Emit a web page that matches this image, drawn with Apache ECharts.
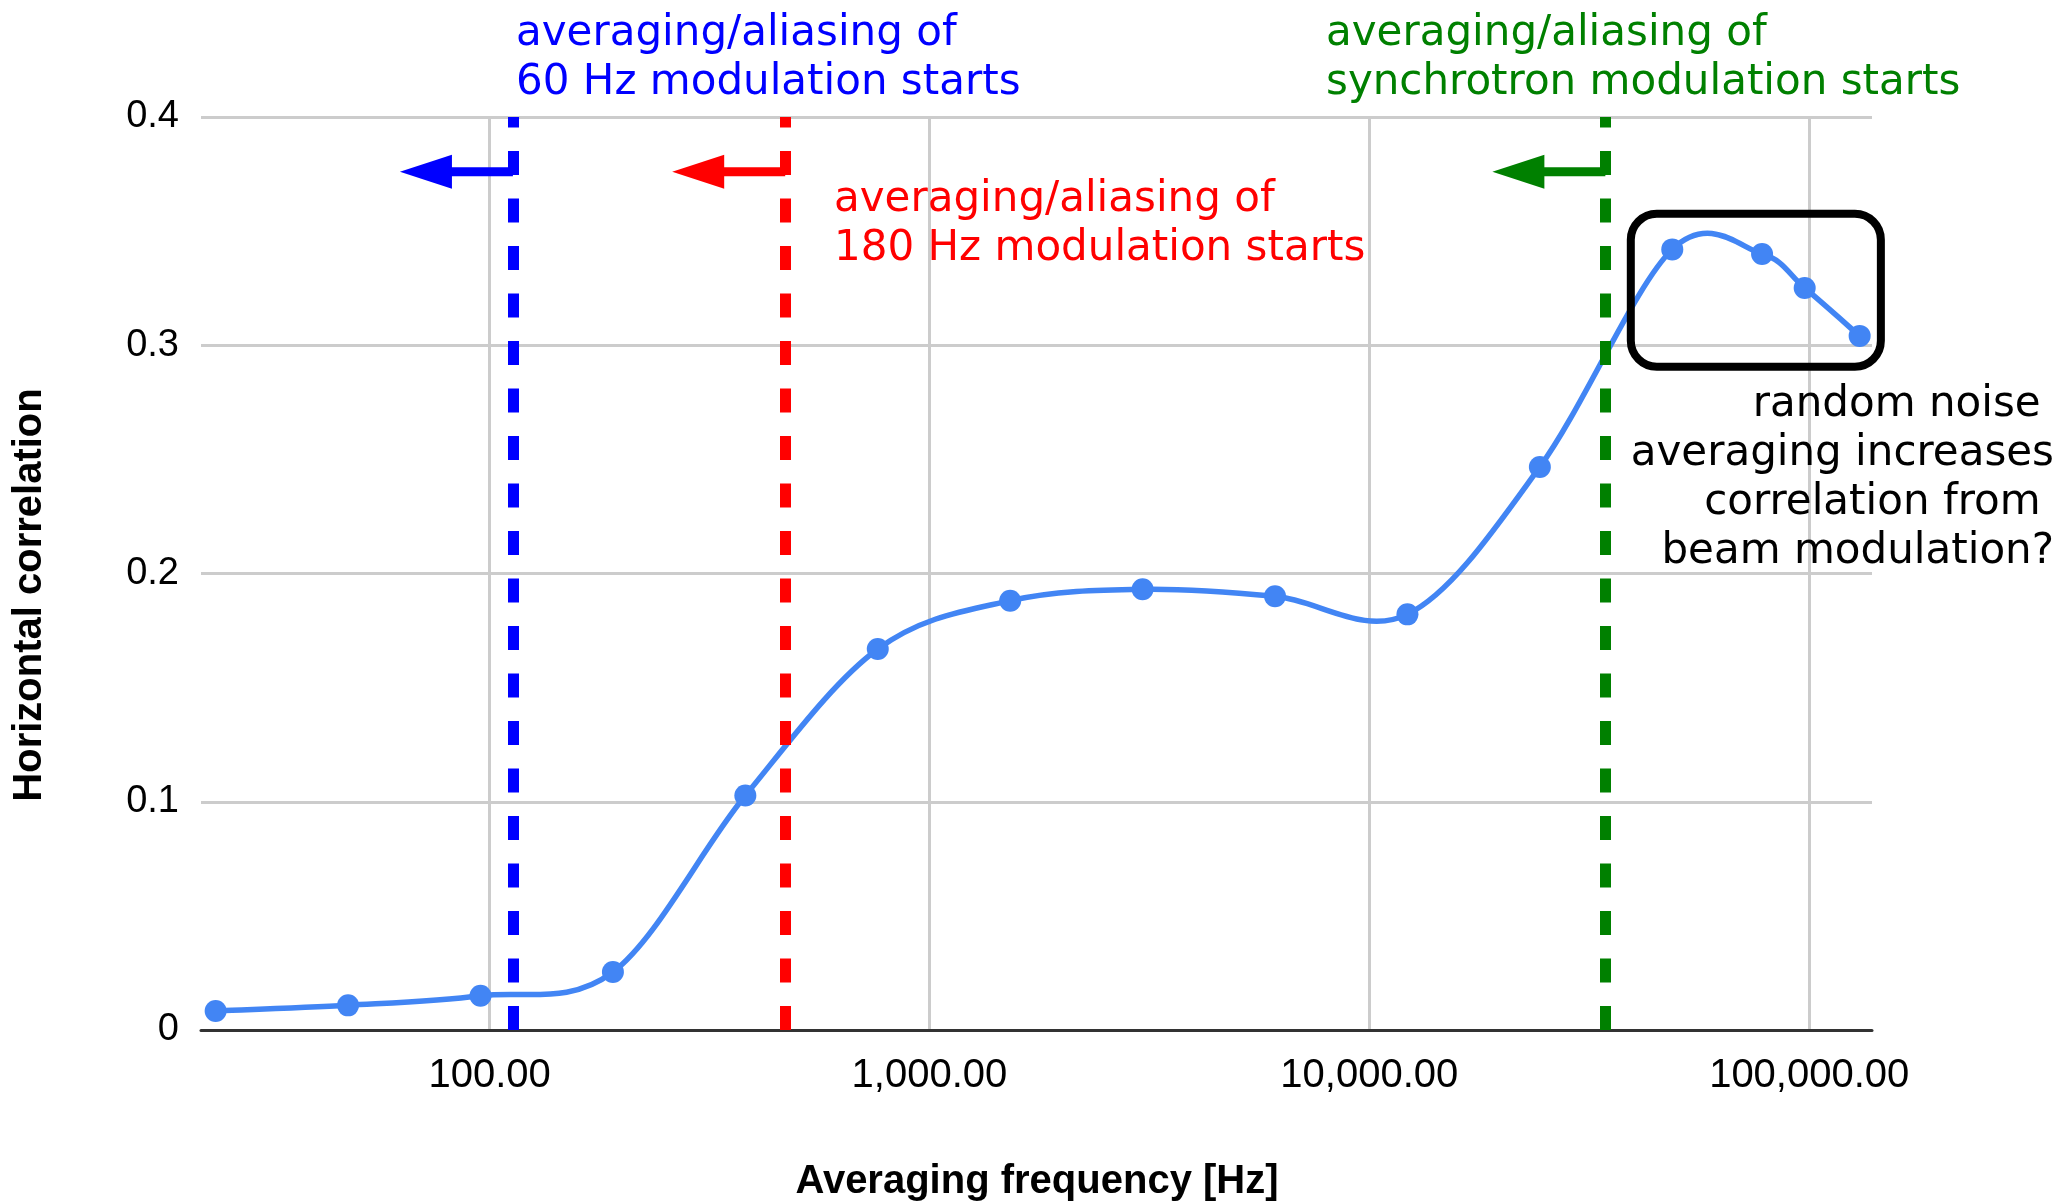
<!DOCTYPE html>
<html><head><meta charset="utf-8">
<script src="https://cdn.jsdelivr.net/npm/echarts@6/dist/echarts.min.js"></script>
<style>html,body{margin:0;padding:0;background:#fff}#c{width:2062px;height:1201px}</style>
</head><body><div id="c"></div>
<script>
// ---- data ----
const freqHz = [23.84, 47.68, 95.37, 190.73, 381.47, 762.94, 1525.88, 3051.76, 6103.52, 12207.03, 24414.06, 48828.13, 78125, 97656.25, 130208.33];
const correlation = [0.0083, 0.0108, 0.0150, 0.0254, 0.1027, 0.1669, 0.1881, 0.1931, 0.1900, 0.1821, 0.2467, 0.3420, 0.3400, 0.3251, 0.3041];
const xRange = [22.08, 138900];
const xTickValues = [100, 1000, 10000, 100000];
const yTickValues = [0, 0.1, 0.2, 0.3, 0.4];
const markerFreqs = [113, 470, 34400];
const markerColors = ['#0000ff', '#ff0000', '#008000'];
const markerTexts = [
  'averaging/aliasing of\n60 Hz modulation starts',
  'averaging/aliasing of\n180 Hz modulation starts',
  'averaging/aliasing of\nsynchrotron modulation starts'
];
const arrowLevel = 0.376;
const boxFreqRange = [39300, 145500];
const boxCorrRange = [0.2906, 0.3576];
const noteText = 'random noise \naveraging increases\ncorrelation from \nbeam modulation?';
const xTitle = 'Averaging frequency [Hz]';
const yTitle = 'Horizontal correlation';

// ---- layout / style ----
const textPos = [[516, 9], [834, 175], [1326, 9]];
const annFont = '42px "DejaVu Sans"';
const axisFont = '"Liberation Sans", Arial, sans-serif';
const lineColor = '#4285f4';

const chart = echarts.init(document.getElementById('c'), null, {renderer: 'canvas'});

const fmtX = v => {
  const hit = xTickValues.some(t => Math.abs(t - v) / t < 1e-6);
  return hit ? Number(v).toLocaleString('en-US', {minimumFractionDigits: 2, maximumFractionDigits: 2}) : '';
};

const baseGraphics = [];
markerTexts.forEach((t, i) => {
  baseGraphics.push({type: 'text', silent: true, z: 100,
    style: {text: t, x: textPos[i][0], y: textPos[i][1], fill: markerColors[i], font: annFont,
      lineHeight: 49.5, align: 'left', textAlign: 'left', verticalAlign: 'top', textVerticalAlign: 'top'}});
});
baseGraphics.push({type: 'text', silent: true, z: 100,
  style: {text: noteText, x: 2054, y: 381, fill: '#000', font: annFont, lineHeight: 49,
    align: 'right', textAlign: 'right', verticalAlign: 'top', textVerticalAlign: 'top'}});
baseGraphics.push({type: 'text', silent: true, z: 100,
  style: {text: xTitle, x: 1037, y: 1182, fill: '#000', font: 'bold 40px "Liberation Sans", Arial',
    align: 'center', textAlign: 'center', verticalAlign: 'middle', textVerticalAlign: 'middle'}});
baseGraphics.push({type: 'text', silent: true, z: 100, x: 30, y: 595, rotation: Math.PI / 2,
  style: {text: yTitle, x: 0, y: 0, fill: '#000', font: 'bold 40px "Liberation Sans", Arial',
    align: 'center', textAlign: 'center', verticalAlign: 'middle', textVerticalAlign: 'middle'}});

// Catmull-Rom style smooth curve through the data points (in pixel space via the axes)
function renderCurve(params, api) {
  if (params.dataIndex !== 0) return null;
  const pts = freqHz.map((f, i) => api.coord([f, correlation[i]]));
  const n = pts.length;
  let d = 'M' + pts[0][0] + ' ' + pts[0][1];
  for (let i = 0; i < n - 1; i++) {
    const p0 = pts[Math.max(i - 1, 0)], p1 = pts[i], p2 = pts[i + 1], p3 = pts[Math.min(i + 2, n - 1)];
    const c1 = [p1[0] + (p2[0] - p0[0]) / 6, p1[1] + (p2[1] - p0[1]) / 6];
    const c2 = [p2[0] - (p3[0] - p1[0]) / 6, p2[1] - (p3[1] - p1[1]) / 6];
    d += ' C' + c1[0] + ' ' + c1[1] + ' ' + c2[0] + ' ' + c2[1] + ' ' + p2[0] + ' ' + p2[1];
  }
  return {type: 'path', shape: {pathData: d}, style: {fill: 'none', stroke: lineColor, lineWidth: 5.5, lineJoin: 'round'}};
}

chart.setOption({
  animation: false,
  backgroundColor: '#fff',
  grid: {left: 201, right: 190, top: 117, bottom: 171, containLabel: false},
  xAxis: {
    type: 'log', logBase: 10, min: xRange[0], max: xRange[1],
    axisLine: {show: true, onZero: false, lineStyle: {color: '#333', width: 3}},
    axisTick: {show: false},
    splitLine: {show: true, showMinLine: false, showMaxLine: false, lineStyle: {color: '#cccccc', width: 3}},
    minorSplitLine: {show: false},
    axisLabel: {formatter: fmtX, fontSize: 40, fontFamily: axisFont, color: '#000', margin: 26,
      hideOverlap: false, showMinLabel: true, showMaxLabel: true}
  },
  yAxis: {
    type: 'value', min: yTickValues[0], max: yTickValues[yTickValues.length - 1], interval: 0.1,
    axisLine: {show: false}, axisTick: {show: false},
    splitLine: {show: true, lineStyle: {color: '#cccccc', width: 3}},
    axisLabel: {fontSize: 38, fontFamily: axisFont, color: '#000', margin: 22}
  },
  series: [{
    type: 'custom',
    renderItem: renderCurve,
    data: freqHz.map((f, i) => [f, correlation[i]]),
    z: 3, silent: true
  }, {
    type: 'scatter',
    data: freqHz.map((f, i) => [f, correlation[i]]),
    symbol: 'circle', symbolSize: 22,
    itemStyle: {color: lineColor, opacity: 1},
    z: 4,
    markLine: {
      silent: true, symbol: 'none', label: {show: false}, z: 5,
      data: markerFreqs.map((f, i) => ({xAxis: f,
        lineStyle: {color: markerColors[i], width: 11, type: [24, 23.5], cap: 'butt'}}))
    }
  }],
  graphic: baseGraphics
});

// annotations anchored to data coordinates
const px = (x, y) => chart.convertToPixel({gridIndex: 0}, [x, y]);
const extra = [];
markerFreqs.forEach((f, i) => {
  const p = px(f, arrowLevel);
  const tail = p[0], cy = p[1];
  const tip = tail - 113, base = tip + 52;
  extra.push({type: 'rect', silent: true, z: 90, shape: {x: base - 1, y: cy - 4.5, width: tail - base + 1, height: 9},
    style: {fill: markerColors[i]}});
  extra.push({type: 'polygon', silent: true, z: 90, shape: {points: [[tip, cy], [base, cy - 17], [base, cy + 17]]},
    style: {fill: markerColors[i]}});
});
const b0 = px(boxFreqRange[0], boxCorrRange[1]);
const b1 = px(boxFreqRange[1], boxCorrRange[0]);
extra.push({type: 'rect', silent: true, z: 95,
  shape: {x: b0[0], y: b0[1], width: b1[0] - b0[0], height: b1[1] - b0[1], r: 26},
  style: {fill: 'none', stroke: '#000', lineWidth: 8}});

chart.setOption({graphic: baseGraphics.concat(extra)});
</script></body></html>
